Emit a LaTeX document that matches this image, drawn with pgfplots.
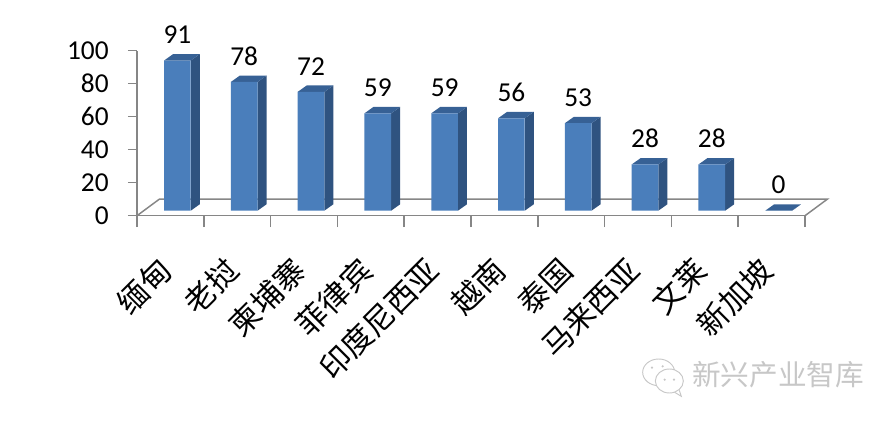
\documentclass[border=0pt]{standalone}
\usepackage{pgfplots}
\pgfplotsset{compat=1.18}
\usepackage{fontspec}
\setmainfont{Carlito}
\newfontfamily\cjk{Noto Sans CJK SC}
\definecolor{front}{HTML}{4A7EBB}
\definecolor{sidec}{HTML}{2F5380}
\definecolor{topc}{HTML}{376195}
\definecolor{axisc}{HTML}{868686}
\newcommand\faces[2]{%
  \pgfmathsetmacro\xl{#1-0.2}\pgfmathsetmacro\xr{#1+0.2}%
  \pgfmathsetmacro\xL{#1-0.065}\pgfmathsetmacro\xR{#1+0.335}%
  \pgfmathsetmacro\yT{#2+3.9}%
  \edef\tmp{\noexpand\addplot[fill=sidec,draw=none,forget plot] coordinates {(\xr,0)(\xR,3.9)(\xR,\yT)(\xr,#2)} --cycle;
  \noexpand\addplot[fill=topc,draw=none,forget plot] coordinates {(\xl,#2)(\xL,\yT)(\xR,\yT)(\xr,#2)} --cycle;}\tmp}
\begin{document}
\begin{tikzpicture}[x=1pt,y=1pt]
\useasboundingbox (0,0) rectangle (671.25,315.75);
\begin{axis}[
  at={(102.75pt,153.975pt)},anchor=south west,scale only axis,
  width=501pt,height=123.75pt,
  xmin=0,xmax=10,ymin=0,ymax=100,clip=false,
  axis x line*=bottom,axis y line*=left,
  axis line style={axisc,line width=1.1pt,-},
  tick align=outside,
  ytick={0,20,40,60,80,100},
  y tick style={draw=axisc,line width=1.1pt},
  major tick length=6.75pt,
  xtick={0.5,1.5,2.5,3.5,4.5,5.5,6.5,7.5,8.5,9.5},
  xticklabels={缅甸,老挝,柬埔寨,菲律宾,印度尼西亚,越南,泰国,马来西亚,文莱,新加坡},
  x tick style={draw=none},
  minor xtick={0,1,2,3,4,5,6,7,8,9,10},
  minor tick length=8.5pt,
  minor x tick style={draw=axisc,line width=1.1pt},
  x tick label style={font=\cjk\fontsize{23}{24}\selectfont,rotate=45,anchor=north east,inner sep=0pt,yshift=-8.1pt,xshift=-23.3pt},
  y tick label style={font=\fontsize{20.5}{21}\selectfont,xshift=-11pt},
  /pgf/number format/assume math mode=true,
]
\draw[axisc,line width=1.1pt] (axis cs:0,0)--(axis cs:0.337,10.1)--(axis cs:10.337,10.1)--(axis cs:10,0);
\end{axis}
\begin{axis}[
  at={(108pt,157.725pt)},anchor=south west,scale only axis,
  width=501pt,height=123.75pt,
  xmin=0,xmax=10,ymin=0,ymax=100,clip=false,hide axis,
]
\faces{0.5}{91}\faces{1.5}{78}\faces{2.5}{72}\faces{3.5}{59}\faces{4.5}{59}
\faces{5.5}{56}\faces{6.5}{53}\faces{7.5}{28}\faces{8.5}{28}\faces{9.5}{0}
\addplot[ybar,bar width=20pt,bar shift=0pt,fill=front,draw=none,
  nodes near coords,
  every node near coord/.append style={font=\fontsize{20.5}{21}\selectfont,text=black,anchor=center,yshift=19.3pt},
  /pgf/number format/assume math mode=true]
 coordinates {(0.5,91)(1.5,78)(2.5,72)(3.5,59)(4.5,59)(5.5,56)(6.5,53)(7.5,28)(8.5,28)(9.5,0)};
\end{axis}
% watermark
\node[anchor=west,inner sep=0pt,text=black!22,font=\cjk\fontsize{21.5}{22}\selectfont] at (519,34.5) {新兴产业智库};
\begin{scope}[draw=black!22,line width=0.7pt]
\draw (494,36.5) ellipse (12pt and 10pt);
\draw[fill=white] (502,30) ellipse (10.5pt and 9pt);
\draw (506,21.5)--(511,18.5)--(509.5,23);
\fill[black!22] (489,40) circle (0.9pt) (497,41) circle (0.9pt) (498.5,31) circle (0.9pt) (505.5,31) circle (0.9pt);
\end{scope}
\end{tikzpicture}
\end{document}
